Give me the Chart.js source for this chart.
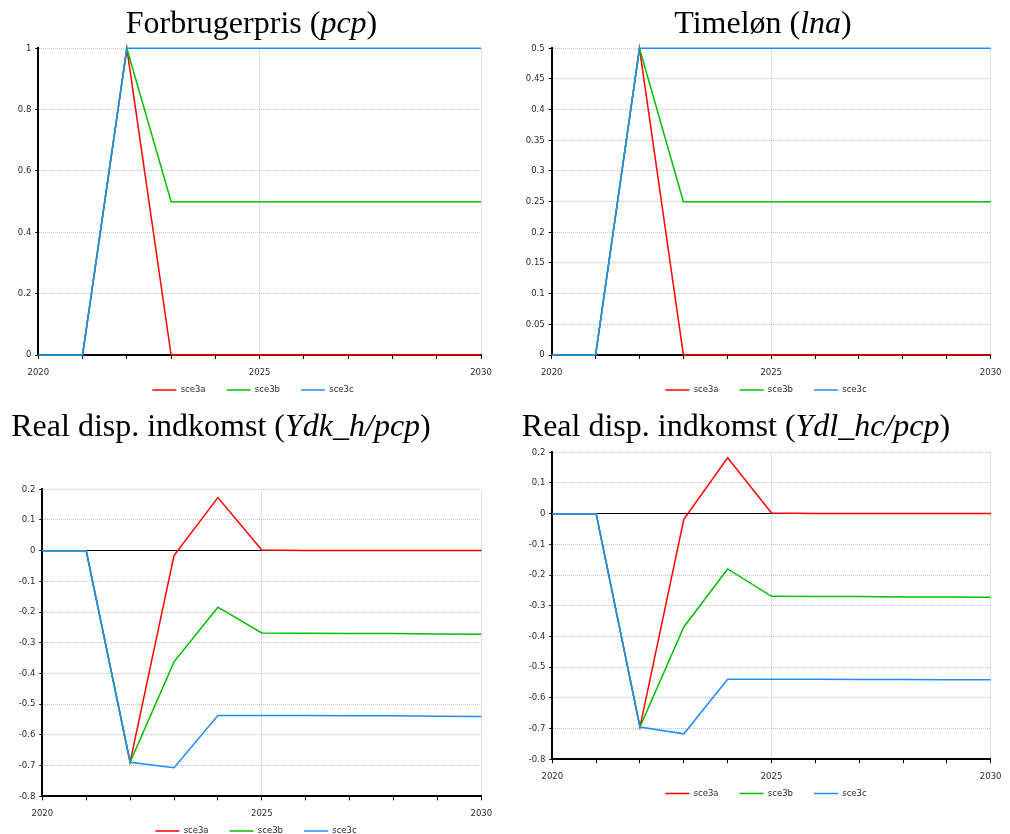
<!DOCTYPE html>
<html>
<head>
<meta charset="utf-8">
<script src="https://cdn.jsdelivr.net/npm/chart.js@4.4.0/dist/chart.umd.min.js"></script>
<style>
html,body{margin:0;padding:0;background:#fff;overflow:hidden;}
#wrap{position:relative;width:1010px;height:834px;overflow:hidden;background:#fff;}
canvas{position:absolute;}
.t{position:absolute;font-family:'Liberation Serif','Times New Roman',serif;font-size:32px;line-height:32px;white-space:nowrap;transform:translateX(-50%);color:#000;}
</style>
</head>
<body>
<div id="wrap">
  <canvas id="c1" width="506" height="422" style="left:0px;top:0px"></canvas>
  <canvas id="c2" width="505" height="422" style="left:505px;top:0px"></canvas>
  <canvas id="c3" width="505" height="418" style="left:0px;top:445px"></canvas>
  <canvas id="c4" width="505" height="386" style="left:505px;top:440px"></canvas>
  <div class="t" style="left:251.5px;top:6px">Forbrugerpris (<i>pcp</i>)</div>
  <div class="t" style="left:763px;top:6px">Timeløn (<i>lna</i>)</div>
  <div class="t" style="left:221px;top:409px">Real disp. indkomst (<i>Ydk_h/pcp</i>)</div>
  <div class="t" style="left:736px;top:409px">Real disp. indkomst (<i>Ydl_hc/pcp</i>)</div>
</div>
<script>
// ---- data ----
const years = [2020, 2021, 2022, 2023, 2024, 2025, 2026, 2027, 2028, 2029, 2030];
const xLabelYears = [2020, 2025, 2030];
const xGridYears = [2025, 2030];
const seriesNames = ['sce3a', 'sce3b', 'sce3c'];

const pcp_sce3a = [0, 0, 1, 0, 0, 0, 0, 0, 0, 0, 0];
const pcp_sce3b = [0, 0, 1, 0.5, 0.5, 0.5, 0.5, 0.5, 0.5, 0.5, 0.5];
const pcp_sce3c = [0, 0, 1, 1, 1, 1, 1, 1, 1, 1, 1];
const pcp_yTicks = [0, 0.2, 0.4, 0.6, 0.8, 1];

const lna_sce3a = [0, 0, 0.5, 0, 0, 0, 0, 0, 0, 0, 0];
const lna_sce3b = [0, 0, 0.5, 0.25, 0.25, 0.25, 0.25, 0.25, 0.25, 0.25, 0.25];
const lna_sce3c = [0, 0, 0.5, 0.5, 0.5, 0.5, 0.5, 0.5, 0.5, 0.5, 0.5];
const lna_yTicks = [0, 0.05, 0.1, 0.15, 0.2, 0.25, 0.3, 0.35, 0.4, 0.45, 0.5];

const ydk_sce3a = [0, 0, -0.689, -0.016, 0.173, 0.002, 0.001, 0.001, 0.001, 0.001, 0.001];
const ydk_sce3b = [0, 0, -0.689, -0.362, -0.184, -0.268, -0.269, -0.270, -0.270, -0.271, -0.272];
const ydk_sce3c = [0, 0, -0.689, -0.707, -0.537, -0.537, -0.537, -0.538, -0.538, -0.539, -0.540];
const ydk_yTicks = [-0.8, -0.7, -0.6, -0.5, -0.4, -0.3, -0.2, -0.1, 0, 0.1, 0.2];

const ydl_sce3a = [0, 0, -0.695, -0.018, 0.182, 0.002, 0.001, 0.001, 0.001, 0.001, 0.001];
const ydl_sce3b = [0, 0, -0.695, -0.369, -0.180, -0.269, -0.270, -0.270, -0.271, -0.271, -0.272];
const ydl_sce3c = [0, 0, -0.695, -0.717, -0.539, -0.539, -0.539, -0.540, -0.540, -0.541, -0.541];
const ydl_yTicks = [-0.8, -0.7, -0.6, -0.5, -0.4, -0.3, -0.2, -0.1, 0, 0.1, 0.2];

// ---- styles / layout ----
const seriesColors = ['#ff0000', '#00bf00', '#1e8cff'];
const fontSize = 8.5;
const tickFont = { family: "'DejaVu Sans', sans-serif", size: fontSize };
const tickColor = '#2a2a2a';
const legendPad = 21;

Chart.defaults.font.family = "'DejaVu Sans', sans-serif";

// places the legend block so its items are centred on (cx, cy) in canvas coordinates
const legendPlace = {
  id: 'legendPlace',
  afterLayout(chart, args, opts) {
    const lg = chart.legend;
    if (!lg) return;
    const w = lg.right - lg.left, h = lg.bottom - lg.top;
    const curCx = (lg.left + lg.right) / 2;
    lg.left += opts.cx - curCx;
    lg.right = lg.left + w;
    lg.top = opts.cy - legendPad - fontSize / 2;
    lg.bottom = lg.top + h;
  }
};

function makePanel(id, series, yTicks, g) {
  return new Chart(document.getElementById(id), {
    type: 'line',
    data: {
      datasets: series.map((vals, i) => ({
        label: seriesNames[i],
        data: years.map((yr, j) => ({ x: yr, y: vals[j] })),
        borderColor: seriesColors[i],
        backgroundColor: seriesColors[i],
        borderWidth: 1.5,
        pointRadius: 0,
        pointHoverRadius: 0,
        tension: 0,
        order: 3 - i,
        clip: false
      }))
    },
    plugins: [legendPlace],
    options: {
      responsive: false,
      animation: false,
      events: [],
      layout: { padding: { left: 0, right: g.pr, top: g.pt, bottom: g.pb } },
      plugins: {
        legendPlace: { cx: g.lcx, cy: g.lcy },
        legend: {
          position: 'bottom',
          labels: {
            usePointStyle: true,
            pointStyle: 'line',
            pointStyleWidth: 24,
            boxHeight: fontSize,
            padding: legendPad,
            color: tickColor,
            font: tickFont,
            sort: (a, b) => a.datasetIndex - b.datasetIndex
          }
        },
        tooltip: { enabled: false },
        title: { display: false }
      },
      scales: {
        x: {
          type: 'linear',
          min: years[0],
          max: years[years.length - 1],
          afterBuildTicks: ax => { ax.ticks = years.map(v => ({ value: v })); },
          afterFit: ax => { ax.height = 26; },
          ticks: {
            autoSkip: false,
            maxRotation: 0,
            padding: 8.5,
            color: tickColor,
            font: tickFont,
            callback: v => (xLabelYears.includes(v) ? String(v) : '')
          },
          grid: {
            color: c => (c.tick && xGridYears.includes(c.tick.value)) ? '#c4c4c4' : 'rgba(0,0,0,0)',
            tickColor: '#000',
            tickLength: 4,
            lineWidth: 1
          },
          border: { color: '#000', width: 2, dash: [1, 1] }
        },
        y: {
          min: yTicks[0],
          max: yTicks[yTicks.length - 1],
          afterBuildTicks: ax => { ax.ticks = yTicks.map(v => ({ value: v })); },
          afterFit: ax => { ax.width = g.yw; },
          ticks: {
            padding: 4,
            color: tickColor,
            font: tickFont,
            callback: v => String(v)
          },
          grid: {
            color: c => (c.tick && c.tick.value === 0) ? '#000' : '#c4c4c4',
            tickColor: '#000',
            tickLength: 3,
            lineWidth: 1
          },
          border: {
            color: '#000',
            width: 2,
            dash: c => (c.tick && c.tick.value === 0) ? [] : [1, 1]
          }
        }
      }
    }
  });
}

makePanel('c1', [pcp_sce3a, pcp_sce3b, pcp_sce3c], pcp_yTicks,
  { yw: 38.3, pr: 25, pt: 48.3, pb: 1.5, lcx: 253, lcy: 390 });
makePanel('c2', [lna_sce3a, lna_sce3b, lna_sce3c], lna_yTicks,
  { yw: 46.7, pr: 18.5, pt: 48.3, pb: 1.5, lcx: 261, lcy: 390 });
makePanel('c3', [ydk_sce3a, ydk_sce3b, ydk_sce3c], ydk_yTicks,
  { yw: 42.3, pr: 23.7, pt: 44.3, pb: 1.2, lcx: 256, lcy: 386 });
makePanel('c4', [ydl_sce3a, ydl_sce3b, ydl_sce3c], ydl_yTicks,
  { yw: 47.3, pr: 18.7, pt: 12.3, pb: 1.2, lcx: 261, lcy: 353.5 });
</script>
</body>
</html>
